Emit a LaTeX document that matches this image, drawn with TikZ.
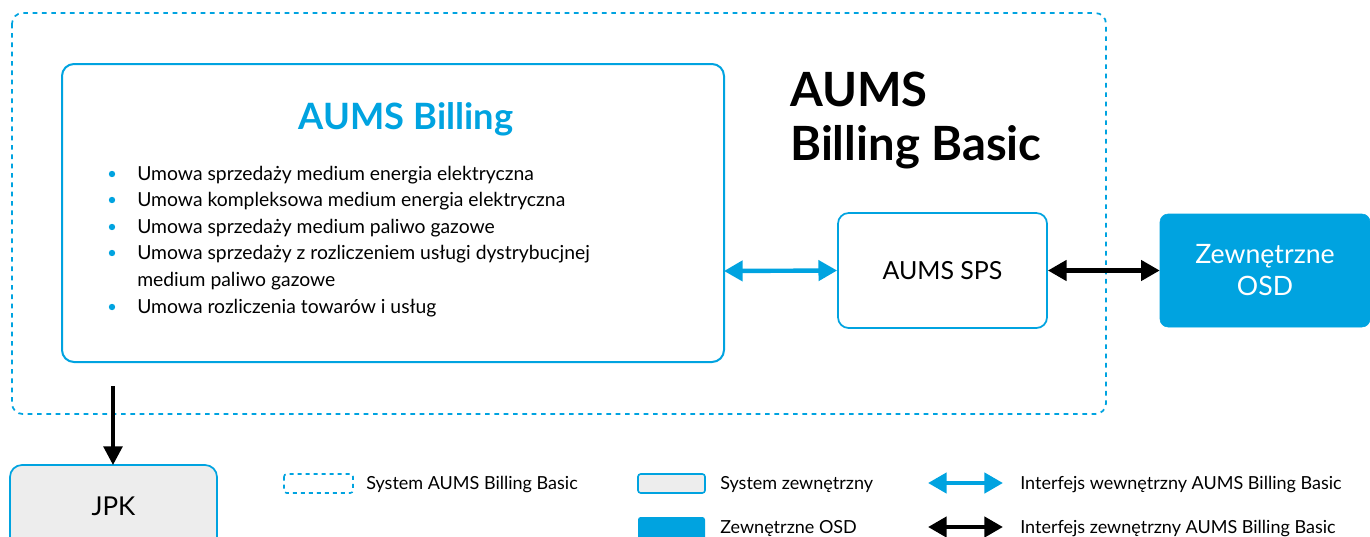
\documentclass[tikz,border=0pt]{standalone}
\usepackage{fontspec}
\setmainfont{Lato}
\usetikzlibrary{arrows.meta}
\definecolor{cy}{RGB}{0,163,224}
\definecolor{lgray}{RGB}{237,237,237}
\begin{document}
\begin{tikzpicture}[x=0.75pt,y=-0.75pt,
  sysbox/.style={draw=cy,line width=1.5pt,rounded corners=9pt,fill=white},
  extbox/.style={draw=cy,line width=1.3pt,rounded corners=9pt,fill=lgray},
  osdbox/.style={draw=cy,fill=cy,rounded corners=6pt},
  outer/.style={draw=cy,line width=1.3pt,dash pattern=on 3.5pt off 3.5pt,rounded corners=8pt},
  inarrow/.style={draw=cy,line width=3.3pt,{Triangle[length=14pt,width=15pt]}-{Triangle[length=14pt,width=15pt]}},
  exarrow/.style={draw=black,line width=3.3pt,{Triangle[length=14pt,width=15pt]}-{Triangle[length=14pt,width=15pt]}},
  downarrow/.style={draw=black,line width=2.8pt,-{Triangle[length=14pt,width=14pt]}},
  blt/.style={anchor=west,font=\fontsize{14.5}{17}\selectfont,inner sep=0pt},
  dot/.style={circle,fill=cy,inner sep=0pt,minimum size=4.8pt},
  leg/.style={anchor=west,font=\fontsize{13.5}{16}\selectfont,inner sep=0pt}]
\clip (0,0) rectangle (1370,536);
\fill[white] (0,0) rectangle (1370,536);
% outer dashed system
\draw[outer] (12,13) rectangle (1106,414);
% AUMS Billing box
\draw[sysbox] (62,64) rectangle (724,362);
\node[font=\fontsize{27.2}{32}\selectfont\bfseries,text=cy] (title) at (406,119) {AUMS Billing};
\foreach \y/\t [count=\i] in {175/{Umowa sprzedaży medium energia elektryczna},
  201/{Umowa kompleksowa medium energia elektryczna},
  228/{Umowa sprzedaży medium paliwo gazowe},
  254/{Umowa sprzedaży z rozliczeniem usługi dystrybucjnej},
  308/{Umowa rozliczenia towarów i usług}}{
  \node[dot] (d\i) at (112,\y-1) {};
  \node[blt] (b\i) at (137,\y) {\t};
}
\node[blt] (b4b) at (137,281) {medium paliwo gazowe};
% big title
\node[anchor=west,inner sep=0pt,font=\fontsize{35.4}{40}\selectfont\bfseries] (big1) at (790,89) {AUMS};
\node[anchor=west,inner sep=0pt,font=\fontsize{35.4}{40}\selectfont\bfseries] (big2) at (790,147) {Billing Basic};
% SPS
\node[draw=cy,line width=1.3pt,rounded corners=8pt,fill=white,minimum width=156.75pt,minimum height=86.25pt,font=\fontsize{18.7}{22}\selectfont] (sps) at (942.5,270.5) {AUMS SPS};
% OSD
\node[osdbox,minimum width=157.5pt,minimum height=84.75pt,text=white,align=center,font=\fontsize{20}{24}\selectfont] (osd) at (1265,270.5) {Zewnętrzne\\OSD};
\coordinate (bl) at (724,271);
\draw[inarrow] (bl) -- (sps.west);
\draw[exarrow] (sps.east) -- (osd.west);
% JPK
\draw[extbox] (10,465) rectangle (217,560);
\node[font=\fontsize{19.5}{22}\selectfont] (jpk) at (113.5,506) {JPK};
\coordinate (jtop) at (113,465);
\coordinate (asrc) at (113,386);
\draw[downarrow] (asrc) -- (jtop);
% legend
\draw[draw=cy,line width=1.2pt,dash pattern=on 3pt off 3pt,rounded corners=2pt] (284,474) rectangle (353,493);
\node[leg] (l1) at (366,485) {System AUMS Billing Basic};
\draw[draw=cy,line width=1.2pt,fill=lgray,rounded corners=2pt] (638,474) rectangle (705,493);
\node[leg] (l2) at (720,485) {System zewnętrzny};
\fill[cy,rounded corners=2pt] (638,517) rectangle (705,540);
\node[leg] (l3) at (720,529) {Zewnętrzne OSD};
\coordinate (la1) at (928,483); \coordinate (la2) at (1003,483);
\draw[inarrow] (la1) -- (la2);
\node[leg] (l4) at (1020,485) {Interfejs wewnętrzny AUMS Billing Basic};
\coordinate (lb1) at (928,527); \coordinate (lb2) at (1003,527);
\draw[exarrow] (lb1) -- (lb2);
\node[leg] (l5) at (1020,529) {Interfejs zewnętrzny AUMS Billing Basic};
\end{tikzpicture}
\end{document}
